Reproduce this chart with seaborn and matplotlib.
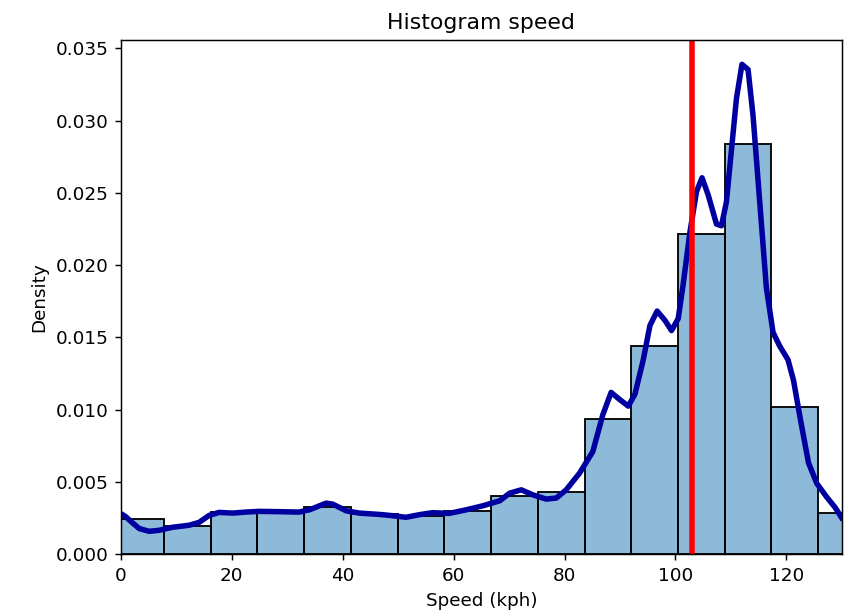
import numpy as np
import matplotlib
matplotlib.use("Agg")
import matplotlib.pyplot as plt
import seaborn as sns

# histogram bins (kph) and bar heights (density)
bin_edges = [-0.7, 7.73, 16.16, 24.59, 33.02, 41.45, 49.88, 58.31, 66.74,
             75.17, 83.6, 92.03, 100.46, 108.89, 117.32, 125.75, 134.18]
bar_density = [0.00243, 0.00194, 0.0029, 0.00298, 0.00326, 0.00277, 0.00263, 0.00298,
               0.0040, 0.0043, 0.00936, 0.01442, 0.02218, 0.02835, 0.01019, 0.00284]

# kde curve
kde_speed = [0.0, 0.8, 2.1, 3.3, 5.1, 6.9, 9.3, 12.3, 14.1, 15.9, 17.7, 20.1, 22.5,
             24.9, 28.5, 32.1, 34.0, 37.0, 38.2, 40.6, 43.0, 46.6, 49.0, 51.4, 53.8,
             56.2, 59.2, 62.3, 65.3, 68.3, 70.1, 72.2, 74.3, 76.7, 78.5, 80.3, 82.7,
             85.1, 86.9, 88.4, 89.9, 91.5, 92.7, 94.2, 95.4, 96.7, 98.1, 99.3, 100.5,
             101.4, 102.6, 103.8, 104.8, 105.9, 107.4, 108.3, 109.2, 110.1, 111.0,
             112.0, 113.1, 114.0, 115.2, 116.4, 117.6, 118.8, 120.3, 121.3, 122.5,
             124.0, 125.5, 127.3, 128.8, 130.0]
kde_density = [0.0028, 0.00261, 0.00216, 0.00177, 0.00158, 0.00165, 0.00186, 0.0020,
               0.0022, 0.00268, 0.00289, 0.00284, 0.00291, 0.00296, 0.00294, 0.00291,
               0.00307, 0.00353, 0.00346, 0.0030, 0.00284, 0.00275, 0.00266, 0.00255,
               0.00273, 0.00287, 0.00282, 0.00307, 0.00335, 0.00369, 0.00422, 0.00445,
               0.0041, 0.00381, 0.00388, 0.00445, 0.00560, 0.00710, 0.00964, 0.01119,
               0.01071, 0.01024, 0.01107, 0.01345, 0.01582, 0.01682, 0.01618, 0.01547,
               0.0163, 0.01868, 0.02224, 0.02509, 0.02604, 0.02486, 0.02284, 0.02272,
               0.02438, 0.02795, 0.03151, 0.03389, 0.03353, 0.03033, 0.02438, 0.01844,
               0.01535, 0.0144, 0.01345, 0.01202, 0.00941, 0.00632, 0.00489, 0.00394,
               0.00323, 0.00251]

mean_speed = 103.0

bin_centers = [(a + b) / 2 for a, b in zip(bin_edges[:-1], bin_edges[1:])]

# original looks rendered at ~132 dpi
dpi = 132
fig, ax = plt.subplots(figsize=(846 / dpi, 613 / dpi), dpi=dpi)
sns.histplot(x=bin_centers, weights=bar_density, bins=bin_edges, stat="count",
             alpha=0.5, edgecolor="black", linewidth=1, ax=ax)
sns.lineplot(x=kde_speed, y=kde_density, color="#0000a0", linewidth=3, ax=ax)
ax.axvline(mean_speed, color="red", linewidth=3)

ax.set_xlim(0, 130)
ax.set_title("Histogram speed")
ax.set_xlabel("Speed (kph)")
ax.set_ylabel("Density")
fig.subplots_adjust(left=0.143, right=0.995, top=0.935, bottom=0.096)
fig.savefig("out.png", dpi=dpi)
